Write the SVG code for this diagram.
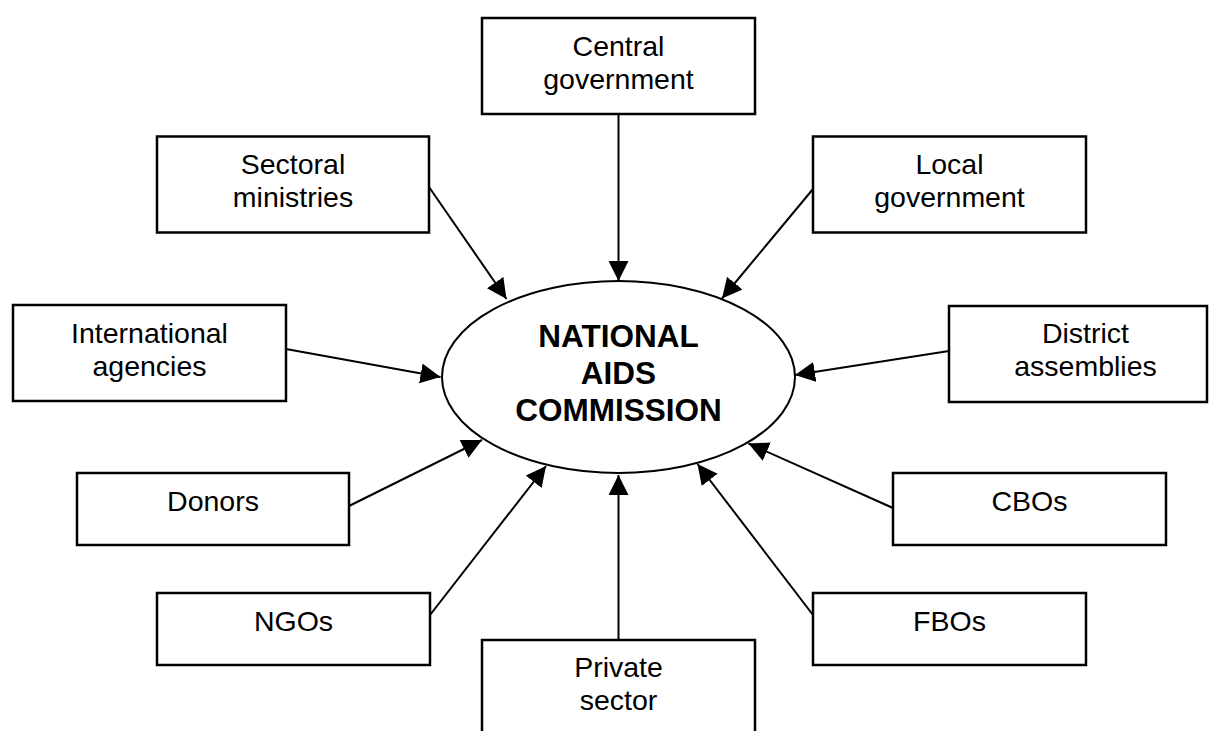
<svg xmlns="http://www.w3.org/2000/svg" width="1211" height="731" viewBox="0 0 1211 731">
  <defs>
    <style>
      .box { fill: #fff; stroke: #000; stroke-width: 2.5; }
      .hub { fill: #fff; stroke: #000; stroke-width: 2; }
      .lbl { font-family: "Liberation Sans", Arial, sans-serif; font-size: 28.5px; fill: #000; text-anchor: middle; }
      .hubtxt { font-family: "Liberation Sans", Arial, sans-serif; font-size: 31.5px; font-weight: bold; fill: #000; text-anchor: middle; }
      .link { stroke: #000; stroke-width: 2; fill: none; marker-end: url(#arrow); }
    </style>
    <marker id="arrow" markerUnits="userSpaceOnUse" markerWidth="21" markerHeight="21" refX="20" refY="10" orient="auto">
      <path d="M0,0 L20,10 L0,20 Z" fill="#000"/>
    </marker>
  </defs>

  <rect width="1211" height="731" fill="#fff"/>

  <!-- connectors: every body points at the commission -->
  <g id="connectors">
    <line class="link" x1="618.5" y1="114" x2="618.5" y2="281"/>
    <line class="link" x1="429" y1="187" x2="506.5" y2="299"/>
    <line class="link" x1="813" y1="189" x2="722" y2="298.5"/>
    <line class="link" x1="286" y1="349" x2="440.5" y2="377"/>
    <line class="link" x1="949" y1="351" x2="795" y2="375"/>
    <line class="link" x1="349" y1="506" x2="482" y2="440"/>
    <line class="link" x1="893" y1="508" x2="748.5" y2="443.5"/>
    <line class="link" x1="430" y1="615" x2="546" y2="466"/>
    <line class="link" x1="618.5" y1="640" x2="618.5" y2="475"/>
    <line class="link" x1="813" y1="615" x2="697.5" y2="464"/>
  </g>

  <g id="commission">
    <ellipse class="hub" cx="618.5" cy="377" rx="176.5" ry="96"/>
    <text class="hubtxt" x="618.5" y="347">NATIONAL</text>
    <text class="hubtxt" x="618.5" y="384">AIDS</text>
    <text class="hubtxt" x="618.5" y="421">COMMISSION</text>
  </g>

  <g id="central-government">
    <rect class="box" x="482" y="18" width="273" height="96"/>
    <text class="lbl" x="618.5" y="56">Central</text>
    <text class="lbl" x="618.5" y="89">government</text>
  </g>

  <g id="sectoral-ministries">
    <rect class="box" x="157" y="136.5" width="272" height="96"/>
    <text class="lbl" x="293" y="174">Sectoral</text>
    <text class="lbl" x="293" y="207">ministries</text>
  </g>

  <g id="local-government">
    <rect class="box" x="813" y="136.5" width="273" height="96"/>
    <text class="lbl" x="949.5" y="174">Local</text>
    <text class="lbl" x="949.5" y="207">government</text>
  </g>

  <g id="international-agencies">
    <rect class="box" x="13" y="305" width="273" height="96"/>
    <text class="lbl" x="149.5" y="342.5">International</text>
    <text class="lbl" x="149.5" y="375.5">agencies</text>
  </g>

  <g id="district-assemblies">
    <rect class="box" x="949" y="306" width="258" height="96"/>
    <text class="lbl" x="1085.5" y="343">District</text>
    <text class="lbl" x="1085.5" y="376">assemblies</text>
  </g>

  <g id="donors">
    <rect class="box" x="77" y="473" width="272" height="72"/>
    <text class="lbl" x="213" y="511">Donors</text>
  </g>

  <g id="cbos">
    <rect class="box" x="893" y="473" width="273" height="72"/>
    <text class="lbl" x="1029.5" y="511">CBOs</text>
  </g>

  <g id="ngos">
    <rect class="box" x="157" y="593" width="273" height="72"/>
    <text class="lbl" x="293.5" y="631">NGOs</text>
  </g>

  <g id="fbos">
    <rect class="box" x="813" y="593" width="273" height="72"/>
    <text class="lbl" x="949.5" y="631">FBOs</text>
  </g>

  <g id="private-sector">
    <rect class="box" x="482" y="640" width="273" height="120"/>
    <text class="lbl" x="618.5" y="677">Private</text>
    <text class="lbl" x="618.5" y="710">sector</text>
  </g>
</svg>
